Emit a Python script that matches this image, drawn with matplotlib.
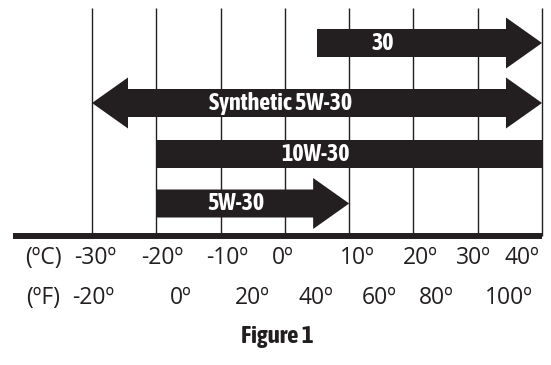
import matplotlib
matplotlib.use("Agg")
import matplotlib.pyplot as plt
from matplotlib.patches import Polygon

# oil grades and their temperature ranges (deg C)
grades = ["30", "Synthetic 5W-30", "10W-30", "5W-30"]
start_c = [5, -30, -20, -20]
end_c = [40, 40, 40, 10]
left_head = [False, True, False, False]
right_head = [True, True, False, True]

# scale labels
c_labels = ["-30º", "-20º", "-10º", "0º", "10º", "20º", "30º", "40º"]
c_label_pos = [-29.5, -19.1, -9.0, -0.3, 11.2, 21.0, 29.4, 36.9]
f_labels = ["-20º", "0º", "20º", "40º", "60º", "80º", "100º"]
f_label_pos = [-29.8, -16.2, -5.1, 4.8, 14.6, 23.5, 34.9]
grid_c = [-30, -20, -10, 0, 10, 20, 30, 40]

# layout (y in pixel-like units, top = 0)
row_y = [43, 103, 154, 203.5]
label_x = [15.3, -0.6, 4.7, -7.6]
body_h = 14
head_h = 25.5
head_len = 5.6
dark = "#231f20"
cond = ["Asap Condensed", "Archivo Narrow", "DejaVu Sans"]

fig = plt.figure(figsize=(5.51, 3.65), dpi=100)
ax = fig.add_axes([0, 0, 1, 1])
px = 450 / 70.0  # pixels per deg C
ax.set_xlim(-30 - 92 / px, 40 + 9 / px)
ax.set_ylim(365, 0)
ax.axis("off")

# vertical grid lines and the base axis
ax.vlines(grid_c, 8, 236, color=dark, lw=1.0, zorder=1)
ax.hlines(236, -30 - 79 / px, 40, color=dark, lw=4.3, zorder=3)


def arrow_poly(x0, x1, yc, lh, rh):
    pts = []
    if lh:
        pts += [(x0, yc), (x0 + head_len, yc - head_h), (x0 + head_len, yc - body_h)]
    else:
        pts += [(x0, yc - body_h)]
    if rh:
        pts += [(x1 - head_len, yc - body_h), (x1 - head_len, yc - head_h), (x1, yc),
                (x1 - head_len, yc + head_h), (x1 - head_len, yc + body_h)]
    else:
        pts += [(x1, yc - body_h), (x1, yc + body_h)]
    if lh:
        pts += [(x0 + head_len, yc + body_h), (x0 + head_len, yc + head_h)]
    else:
        pts += [(x0, yc + body_h)]
    return pts


for i, name in enumerate(grades):
    poly = Polygon(arrow_poly(start_c[i], end_c[i], row_y[i], left_head[i], right_head[i]),
                   closed=True, facecolor=dark, edgecolor="none", zorder=2)
    ax.add_patch(poly)
    ax.text(label_x[i], row_y[i] + 0.5, name, color="white", fontsize=17.3, fontweight="bold",
            family=cond, ha="center", va="center", zorder=4)

# temperature scales
tick_font = dict(fontsize=16.5, color=dark, family=["Open Sans", "DejaVu Sans"], va="center")
ax.text(-30 - 49 / px, 258, "(ºC)", ha="center", **tick_font)
ax.text(-30 - 49 / px, 298, "(ºF)", ha="center", **tick_font)
for x, s in zip(c_label_pos, c_labels):
    ax.text(x, 258, s, ha="center", **tick_font)
for x, s in zip(f_label_pos, f_labels):
    ax.text(x, 298, s, ha="center", **tick_font)

ax.text(-30 + 185 / px, 336, "Figure 1", ha="center", va="center", fontsize=18,
        fontweight="bold", color=dark, family=cond)

fig.savefig("out.png", dpi=100)
